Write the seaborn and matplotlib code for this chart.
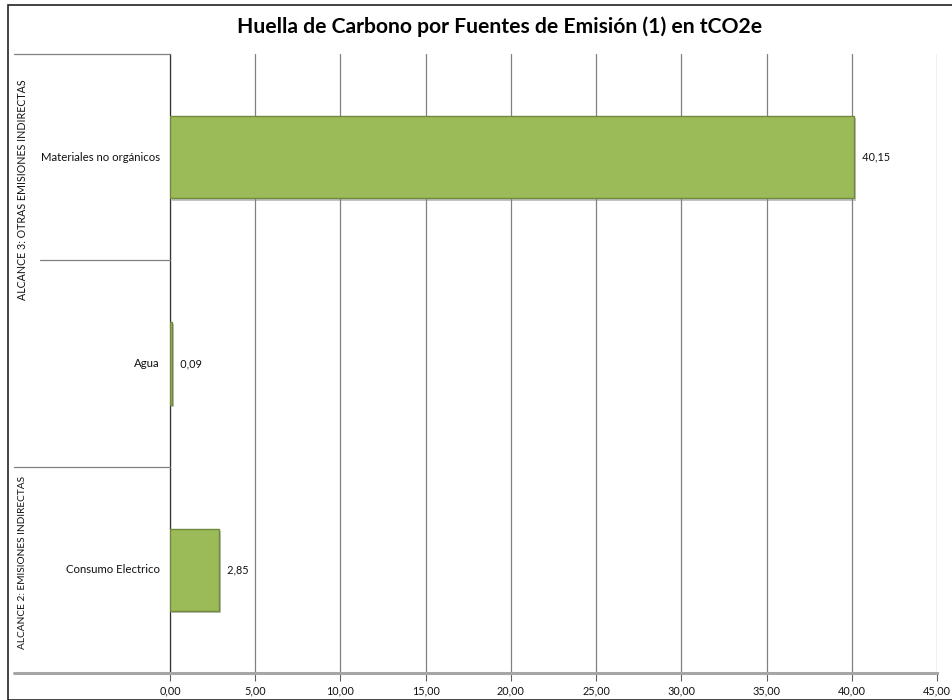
import matplotlib
matplotlib.use("Agg")
import matplotlib.pyplot as plt
import matplotlib.patheffects as pe
from matplotlib.lines import Line2D
from matplotlib.patches import Rectangle
import seaborn as sns
import pandas as pd

categories = ["Materiales no orgánicos", "Agua", "Consumo Electrico"]
values = [40.15, 0.09, 2.85]
groups = ["ALCANCE 3: OTRAS EMISIONES INDIRECTAS", "ALCANCE 2: EMISIONES INDIRECTAS"]
xticks = [0, 5, 10, 15, 20, 25, 30, 35, 40, 45]
title = "Huella de Carbono por Fuentes de Emisión (1) en tCO2e"

sns.set_theme(style="white")
plt.rcParams['font.family'] = ['Lato', 'DejaVu Sans']

W, H = 953, 700
fig = plt.figure(figsize=(W / 100, H / 100), dpi=100)
ax = fig.add_axes([170 / W, 1 - 673 / H, (937 - 170) / W, (673 - 54) / H])

df = pd.DataFrame({"cat": categories, "val": values})
sns.barplot(data=df, x="val", y="cat", order=categories, orient="h",
            color="#9BBB59", edgecolor="#71893F", linewidth=1.0, width=0.4,
            saturation=1, ax=ax, zorder=3)
for p in ax.patches:
    p.set_path_effects([pe.SimplePatchShadow(offset=(1.5, -1.5), shadow_rgbFace="#888888", alpha=0.5), pe.Normal()])

ax.set_xlim(0, 45)
ax.set_ylim(2.5, -0.5)
ax.set_xticks(xticks)
ax.set_xticklabels([f"{t:.2f}".replace(".", ",") for t in xticks], fontsize=7.8, color="#111111")
ax.set_yticks([])
ax.set_xlabel("")
ax.set_ylabel("")
ax.tick_params(axis="x", length=6, color="#606060", width=0.8, pad=3, bottom=True)
ax.grid(axis="x", color="#808080", linewidth=0.9, zorder=0)
ax.set_axisbelow(True)
for s in ["top", "right"]:
    ax.spines[s].set_visible(False)
ax.spines["left"].set_color("#333333")
ax.spines["left"].set_linewidth(0.9)
ax.spines["bottom"].set_color("#A6A6A6")
ax.spines["bottom"].set_linewidth(2.2)

# category labels
for i, c in enumerate(categories):
    ax.text(-10 / ((937 - 170) / 45), i, c, ha="right", va="center", fontsize=8.2, color="#111111")

# value labels
for i, v in enumerate(values):
    ax.text(v, i, "   " + f"{v:.2f}".replace(".", ","), ha="left", va="center", fontsize=7.8, color="#111111")

# group separators and labels (figure pixel coordinates)
def fx(px):
    return px / W

def fy(py):
    return 1 - py / H

line_kw = dict(color="#808080", linewidth=0.9, transform=fig.transFigure)
fig.add_artist(Line2D([fx(14), fx(170)], [fy(54), fy(54)], **line_kw))
fig.add_artist(Line2D([fx(40), fx(170)], [fy(260), fy(260)], **line_kw))
fig.add_artist(Line2D([fx(14), fx(170)], [fy(467), fy(467)], **line_kw))
fig.add_artist(Line2D([fx(14), fx(170)], [fy(673), fy(673)], color="#A6A6A6", linewidth=2.2, transform=fig.transFigure))

fig.text(fx(23), fy(190), groups[0], rotation=90, ha="center", va="center", fontsize=7.7, color="#111111")
fig.text(fx(23), fy(562), groups[1], rotation=90, ha="center", va="center", fontsize=7.3, color="#111111")

# outer border
fig.add_artist(Rectangle((fx(8), fy(700)), fx(960) - fx(8), fy(5) - fy(700), fill=False,
                         edgecolor="#222222", linewidth=1.2, transform=fig.transFigure))

fig.text(fx(500), fy(27), title, ha="center", va="center", fontsize=15.2, fontweight="bold", color="#000000")

fig.savefig("out.png", dpi=100)
